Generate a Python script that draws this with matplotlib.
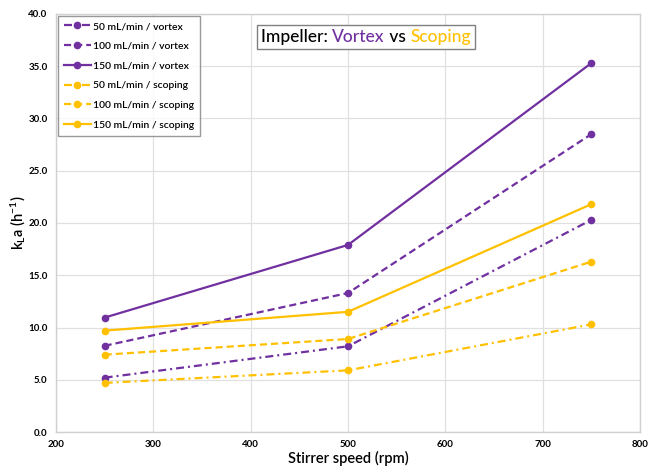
import matplotlib
matplotlib.use("Agg")
import matplotlib.pyplot as plt
from matplotlib.offsetbox import TextArea, HPacker, AnchoredOffsetbox
from matplotlib.ticker import FormatStrFormatter

plt.rcParams['font.family'] = ['Lato', 'DejaVu Sans']
plt.rcParams['mathtext.default'] = 'regular'

speeds = [250, 500, 750]
vortex_50 = [5.2, 8.2, 20.3]
vortex_100 = [8.25, 13.3, 28.5]
vortex_150 = [10.95, 17.9, 35.3]
scoping_50 = [4.7, 5.9, 10.3]
scoping_100 = [7.4, 8.9, 16.3]
scoping_150 = [9.7, 11.5, 21.8]

series_labels = ["50 mL/min / vortex", "100 mL/min / vortex", "150 mL/min / vortex",
                 "50 mL/min / scoping", "100 mL/min / scoping", "150 mL/min / scoping"]

PURPLE = "#7030A0"
YELLOW = "#FFC000"

fig = plt.figure(figsize=(6.48, 4.70), dpi=100)
ax = fig.add_axes([56/648, 1-432/470, (640-56)/648, (432-14)/470])

dashdot = (0, (3.6, 1.8, 0.9, 1.8))
dashed = (0, (3.2, 1.8))
styles = [
    (vortex_50, PURPLE, dashdot),
    (vortex_100, PURPLE, dashed),
    (vortex_150, PURPLE, '-'),
    (scoping_50, YELLOW, dashdot),
    (scoping_100, YELLOW, dashed),
    (scoping_150, YELLOW, '-'),
]
for (vals, col, ls), lab in zip(styles, series_labels):
    ax.plot(speeds, vals, color=col, linestyle=ls, linewidth=1.6,
            marker='o', markersize=4.5, label=lab)

ax.set_xlim(200, 800)
ax.set_ylim(0, 40)
ax.set_xticks(range(200, 801, 100))
ax.set_yticks([0, 5, 10, 15, 20, 25, 30, 35, 40])
ax.yaxis.set_major_formatter(FormatStrFormatter('%.1f'))
ax.grid(True, color='#E0E0E0', linewidth=0.9)
ax.set_axisbelow(True)
for s in ax.spines.values():
    s.set_color('#D0D0D0')
    s.set_linewidth(1.0)
ax.tick_params(axis='both', length=0, labelsize=7)
ax.tick_params(axis='x', pad=6)
ax.tick_params(axis='y', pad=6)
for lbl in ax.get_xticklabels() + ax.get_yticklabels():
    lbl.set_fontweight('bold')

ax.set_xlabel("Stirrer speed (rpm)", fontsize=10.5, fontweight='semibold')
ax.xaxis.set_label_coords(0.5, (432 - 451) / 418)
ax.set_ylabel(r"k$_{L}$a (h$^{-1}$)", fontsize=10.5, fontweight='semibold')
ax.yaxis.set_label_coords((28 - 56) / 584, 0.5)

leg = ax.legend(loc='upper left', bbox_to_anchor=(0.0, 1.0), fontsize=7.5,
                frameon=True, fancybox=False, edgecolor='#808080',
                handlelength=2.6, handletextpad=0.2, borderpad=0.6,
                labelspacing=1.0, borderaxespad=0.15)
leg.get_frame().set_linewidth(1.0)
for t in leg.get_texts():
    t.set_fontweight('semibold')

tp = dict(fontsize=12.5, fontweight='medium')
t1 = TextArea("Impeller: ", textprops=dict(color='black', **tp))
t2 = TextArea("Vortex", textprops=dict(color=PURPLE, **tp))
t3 = TextArea(" vs ", textprops=dict(color='black', **tp))
t4 = TextArea("Scoping", textprops=dict(color=YELLOW, **tp))
box = HPacker(children=[t1, t2, t3, t4], align='baseline', pad=0, sep=0)
anch = AnchoredOffsetbox(loc='center', child=box, pad=0.3, borderpad=0,
                         frameon=True, bbox_to_anchor=(366/648, 1-37/470),
                         bbox_transform=fig.transFigure)
anch.patch.set_edgecolor('#808080')
anch.patch.set_linewidth(1.0)
anch.patch.set_boxstyle('square', pad=0)
ax.add_artist(anch)

fig.savefig("out.png", dpi=100)
